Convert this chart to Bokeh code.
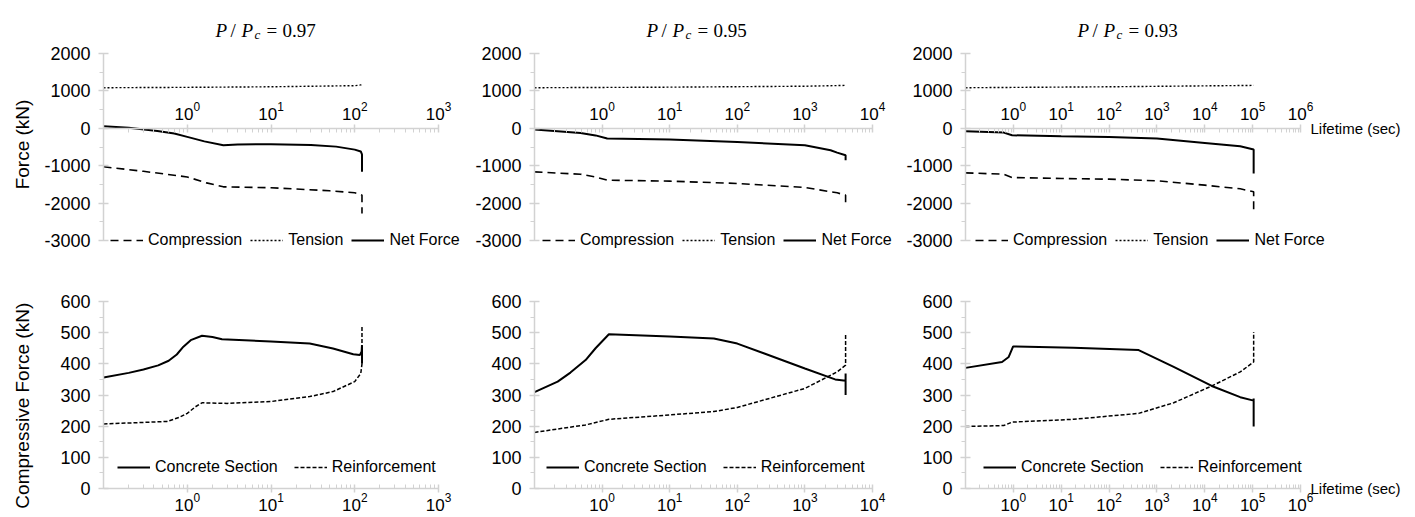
import math
from bokeh.plotting import figure
from bokeh.models import (Range1d, SingleIntervalTicker, FixedTicker, Legend,
                          LegendItem, Label, NumeralTickFormatter)
from bokeh.layouts import row, column
from bokeh.embed import file_html
from bokeh.resources import INLINE

# ---------------- data ----------------
RATIOS = ["0.97", "0.95", "0.93"]
X_MAX_EXP = [3, 4, 6]          # x axis: 10^-1 ... 10^X_MAX_EXP
TOP_Y = (-3000, 2000)
BOT_Y = (0, 600)

# P/Pc = 0.97 -- forces (kN)
t1_comp = [0.1, 0.3, 1.0, 1.7, 2.7, 10, 50, 100, 118, 122, 122]
c1_comp = [-1030, -1150, -1300, -1460, -1565, -1590, -1670, -1725, -1770, -1790, -2280]
t1_tens = [0.1, 1, 10, 100, 118, 122]
c1_tens = [1085, 1095, 1110, 1140, 1160, 1195]
t1_net = [0.1, 0.2, 0.44, 0.7, 1.0, 1.6, 2.7, 4, 10, 30, 60, 100, 118, 122, 122]
c1_net = [55, 15, -75, -140, -230, -350, -455, -430, -425, -445, -490, -570, -620, -700, -1160]
t1_conc = [0.1, 0.2, 0.3, 0.45, 0.6, 0.75, 0.9, 1.1, 1.5, 2.0, 2.6, 10, 29, 55, 96, 115, 121, 122, 122]
c1_conc = [356, 371, 382, 395, 410, 430, 455, 476, 490, 486, 479, 472, 465, 449, 431, 428, 440, 460, 402]
t1_reinf = [0.1, 0.57, 0.8, 1.0, 1.25, 1.5, 3.0, 10, 29, 55, 100, 118, 122, 122]
c1_reinf = [207, 215, 228, 241, 262, 275, 273, 279, 295, 311, 343, 369, 400, 523]

# P/Pc = 0.95
t2_comp = [0.1, 0.48, 0.8, 1.19, 10, 100, 1000, 3000, 4000, 4000]
c2_comp = [-1165, -1227, -1300, -1387, -1413, -1475, -1582, -1725, -1787, -2027]
t2_tens = [0.1, 10, 1000, 4000]
c2_tens = [1085, 1100, 1125, 1147]
t2_net = [0.1, 0.48, 0.8, 1.19, 10, 100, 1000, 2400, 3000, 4000, 4000]
c2_net = [-35, -125, -190, -275, -300, -365, -453, -587, -650, -720, -853]
t2_conc = [0.1, 0.22, 0.34, 0.57, 0.8, 1.26, 10, 45, 100, 1000, 2800, 4000, 4000, 4000]
c2_conc = [309, 343, 372, 412, 450, 495, 488, 481, 465, 385, 350, 346, 369, 300]
t2_reinf = [0.1, 0.57, 1.26, 10, 45, 100, 1000, 3000, 4000, 4000]
c2_reinf = [180, 204, 222, 236, 247, 260, 321, 374, 396, 497]

# P/Pc = 0.93
t3_comp = [0.1, 0.63, 0.94, 10, 100, 1000, 1e4, 5.5e4, 1.05e5, 1.05e5]
c3_comp = [-1191, -1227, -1315, -1342, -1360, -1404, -1520, -1618, -1698, -2276]
t3_tens = [0.1, 100, 1.05e5]
c3_tens = [1085, 1110, 1147]
t3_net = [0.1, 0.63, 0.94, 10, 100, 1000, 1e4, 5.5e4, 1.05e5, 1.05e5]
c3_net = [-80, -115, -187, -213, -231, -275, -391, -480, -569, -1209]
t3_conc = [0.1, 0.58, 0.8, 0.99, 18, 415, 2240, 14000, 55000, 1.05e5, 1.05e5, 1.05e5]
c3_conc = [387, 406, 422, 456, 452, 444, 390, 329, 293, 282, 289, 199]
t3_reinf = [0.1, 0.63, 0.94, 18, 415, 2240, 14000, 55000, 1.05e5, 1.05e5]
c3_reinf = [199, 202, 213, 222, 241, 275, 329, 374, 406, 502]

TOP_SERIES = [
    (t1_comp, c1_comp, t1_tens, c1_tens, t1_net, c1_net),
    (t2_comp, c2_comp, t2_tens, c2_tens, t2_net, c2_net),
    (t3_comp, c3_comp, t3_tens, c3_tens, t3_net, c3_net),
]
BOT_SERIES = [
    (t1_conc, c1_conc, t1_reinf, c1_reinf),
    (t2_conc, c2_conc, t2_reinf, c2_reinf),
    (t3_conc, c3_conc, t3_reinf, c3_reinf),
]
Y_LABELS = ["Force (kN)", "Compressive Force (kN)"]

# ---------------- layout / style ----------------
AXIS = "#d2d2d2"
FONT = "Liberation Sans"
SERIF = "Liberation Serif"
LABEL_W = 40                  # strip holding the y axis titles
WIDTHS = [430, 430, 515]      # figure widths (px)
LEFTS = [63, 64, 65]          # left border (px)
AXIS_PX = [335, 338, 335]     # pixel length of the drawn x axis
TOP_H, TOP_AX_TOP, TOP_AX_BOT = 260, 53, 240   # top row: height, y px of 2000 / -3000
BOT_H, BOT_AX_TOP, BOT_AX_BOT = 257, 41, 228   # bottom row: height, y px of 600 / 0
YLAB_CENTER = [144, 124]      # y px of the centre of each y axis title (within its row)


def log_ticker(max_exp):
    major = [10.0 ** e for e in range(0, max_exp + 1)]
    minor = [k * 10.0 ** e for e in range(-1, max_exp) for k in range(2, 10)]
    return FixedTicker(ticks=major, minor_ticks=minor)


def style_axis(ax, size):
    ax.axis_line_color = AXIS
    ax.axis_line_width = 1.5
    ax.major_tick_line_color = AXIS
    ax.major_tick_line_width = 1.5
    ax.minor_tick_line_color = AXIS
    ax.minor_tick_line_width = 1
    ax.major_label_text_font = FONT
    ax.major_label_text_font_size = size
    ax.major_label_text_color = "black"


def add_title(p, ratio, y):
    parts = [("P", 112, "italic", "19px", 0), ("/", 127, "normal", "19px", 0),
             ("P", 138, "italic", "19px", 0), ("c", 151, "italic", "13px", -4),
             ("=", 163, "normal", "19px", 0), (ratio, 179, "normal", "19px", 0)]
    for txt, x, style, size, dy in parts:
        p.add_layout(Label(x=x, y=y + dy, x_units="screen", y_units="screen", text=txt,
                           text_font=SERIF, text_font_style=style, text_font_size=size,
                           text_color="black", text_baseline="alphabetic"))


def padded_range(lim, ax_top, ax_bot, pad_top, pad_bot):
    k = (ax_bot - ax_top) / (lim[1] - lim[0])
    return Range1d(lim[0] - pad_bot / k, lim[1] + pad_top / k)


def label_strip(text, height, center):
    s = figure(width=LABEL_W, height=height, x_range=Range1d(0, LABEL_W),
               y_range=Range1d(0, height), x_axis_location=None, y_axis_location=None,
               output_backend="svg", toolbar_location=None,
               min_border_left=0, min_border_right=0, min_border_top=0, min_border_bottom=0)
    s.grid.visible = False
    s.outline_line_color = None
    s.add_layout(Label(x=22, y=height - center, text=text, angle=math.pi / 2,
                       text_align="center", text_baseline="middle", text_font=FONT,
                       text_font_size="19px", text_color="black"))
    return s


def base_fig(i, height, yr, ybounds, top, xloc):
    frame_w = WIDTHS[i] - LEFTS[i]
    ext = frame_w - AXIS_PX[i]
    x_end_exp = X_MAX_EXP[i] + ext * (X_MAX_EXP[i] + 1) / AXIS_PX[i]
    p = figure(width=WIDTHS[i], height=height, x_axis_type="log", x_axis_location=xloc,
               x_range=Range1d(0.1, 10.0 ** x_end_exp), y_range=yr,
               output_backend="svg", toolbar_location=None,
               min_border_left=LEFTS[i], min_border_right=0,
               min_border_top=top, min_border_bottom=0)
    p.grid.visible = False
    p.outline_line_color = None
    p.background_fill_color = "white"
    p.border_fill_color = "white"
    xa = p.xaxis[0]
    ya = p.yaxis[0]
    style_axis(xa, "17px")
    style_axis(ya, "18px")
    xa.ticker = log_ticker(X_MAX_EXP[i])
    xa.bounds = (0.1, 10.0 ** X_MAX_EXP[i])
    xa.fixed_location = 0
    ya.bounds = ybounds
    ya.formatter = NumeralTickFormatter(format="0")
    xa.major_tick_in = 4
    xa.major_tick_out = 4
    xa.minor_tick_in = 4
    xa.minor_tick_out = 0
    xa.major_label_standoff = 4 if xloc == "above" else 0
    ya.major_tick_in = 5
    ya.major_tick_out = 5
    ya.minor_tick_in = 0
    ya.minor_tick_out = 4
    ya.major_label_standoff = 8
    return p


def make_legend(items, x, y, spacing):
    return Legend(items=items, orientation="horizontal", location=(x, y),
                  padding=0, margin=0, spacing=spacing, glyph_width=33, glyph_height=20,
                  label_height=20, label_standoff=5, label_text_font=FONT,
                  label_text_font_size="16px", label_text_color="black",
                  background_fill_alpha=0, border_line_color=None)


def lifetime_label(p):
    p.add_layout(Label(x=345, y=0, x_units="screen", y_units="data",
                       text="Lifetime (sec)", text_font=FONT, text_font_size="15px",
                       text_color="black", text_baseline="middle"))


figs_top = [label_strip(Y_LABELS[0], TOP_H, YLAB_CENTER[0])]
figs_bot = [label_strip(Y_LABELS[1], BOT_H, YLAB_CENTER[1])]
for i in range(3):
    # ---- forces ----
    tc, cc, tt, ct, tn, cn = TOP_SERIES[i]
    yr = padded_range(TOP_Y, TOP_AX_TOP, TOP_AX_BOT, TOP_AX_TOP, TOP_H - TOP_AX_BOT)
    p = base_fig(i, TOP_H, yr, TOP_Y, 0, "above")
    p.yaxis[0].ticker = SingleIntervalTicker(interval=1000, num_minor_ticks=2)
    r_c = p.line(tc, cc, line_color="black", line_width=1.6, line_dash="8 5")
    r_t = p.line(tt, ct, line_color="black", line_width=1.4, line_dash="2 2")
    r_n = p.line(tn, cn, line_color="black", line_width=2)
    p.add_layout(make_legend([LegendItem(label="Compression", renderers=[r_c]),
                              LegendItem(label="Tension", renderers=[r_t]),
                              LegendItem(label="Net Force", renderers=[r_n])],
                             [7, 8, 10][i], TOP_H - TOP_AX_BOT - 10, 8))
    add_title(p, RATIOS[i], TOP_H - 30)
    if i == 2:
        lifetime_label(p)
    figs_top.append(p)

    # ---- compressive forces ----
    tcon, ccon, tre, cre = BOT_SERIES[i]
    yr2 = padded_range(BOT_Y, BOT_AX_TOP, BOT_AX_BOT, 0, BOT_H - BOT_AX_BOT)
    q = base_fig(i, BOT_H, yr2, BOT_Y, BOT_AX_TOP, "below")
    q.yaxis[0].ticker = SingleIntervalTicker(interval=100, num_minor_ticks=2)
    r1 = q.line(tcon, ccon, line_color="black", line_width=2)
    r2 = q.line(tre, cre, line_color="black", line_width=1.5, line_dash="4 2")
    q.add_layout(make_legend([LegendItem(label="Concrete Section", renderers=[r1]),
                              LegendItem(label="Reinforcement", renderers=[r2])],
                             [14, 12, 18][i], BOT_H - BOT_AX_BOT + 11, 16))
    if i == 2:
        lifetime_label(q)
    figs_bot.append(q)

layout = column(row(*figs_top), row(*figs_bot))

with open("out.html", "w") as f:
    f.write(file_html(layout, INLINE))
